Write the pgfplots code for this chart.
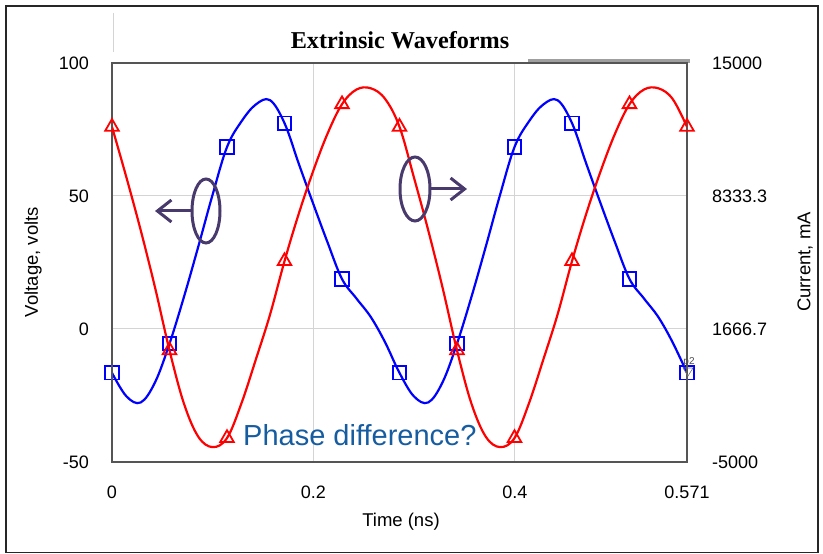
\documentclass[border=0pt]{standalone}
\usepackage{pgfplots}
\pgfplotsset{compat=1.18}
\usepackage{fontspec}
\setmainfont{Liberation Sans}
\newfontfamily\titlefont{Liberation Serif}
\usetikzlibrary{arrows.meta}
\definecolor{frameC}{RGB}{85,85,85}
\definecolor{gridC}{RGB}{212,212,212}
\definecolor{annC}{RGB}{72,58,108}
\definecolor{phaseC}{RGB}{22,92,160}

\pgfplotstableread{
t v
0.0000 -16.5
0.0143 -25.3
0.0286 -27.6
0.0428 -20
0.0571 -5.5
0.0714 12
0.0857 31
0.0999 50.5
0.1142 68.4
0.1285 78
0.1428 84.4
0.1570 86
0.1713 77.4
0.1856 62
0.1999 47
0.2141 32.5
0.2284 18.8
0.2427 11.5
0.2570 4.5
0.2712 -5
0.2855 -16.5
0.2998 -25.3
0.3141 -27.6
0.3283 -20
0.3426 -5.5
0.3569 12
0.3712 31
0.3854 50.5
0.3997 68.4
0.4140 78
0.4283 84.4
0.4425 86
0.4568 77.4
0.4711 62
0.4854 47
0.4996 32.5
0.5139 18.8
0.5282 11.5
0.5425 4.5
0.5567 -5
0.5710 -16.5
}\voltage

\pgfplotstableread{
t v
0.000 -16.5
0.0571 -5.5
0.1142 68.4
0.1713 77.4
0.2284 18.8
0.2855 -16.5
0.3426 -5.5
0.3997 68.4
0.4568 77.4
0.5139 18.8
0.571 -16.5
}\voltagemarks

\pgfplotstableread{
t i
0.0000 11800
0.0143 9267
0.0286 6600
0.0428 3733
0.0571 600
0.0714 -2067
0.0857 -3733
0.0999 -4253
0.1142 -3800
0.1285 -2067
0.1428 133
0.1570 2400
0.1713 5067
0.1856 7467
0.1999 9600
0.2141 11467
0.2284 12933
0.2427 13667
0.2570 13733
0.2712 13200
0.2855 11800
0.2998 9267
0.3141 6600
0.3283 3733
0.3426 600
0.3569 -2067
0.3712 -3733
0.3854 -4253
0.3997 -3800
0.4140 -2067
0.4283 133
0.4425 2400
0.4568 5067
0.4711 7467
0.4854 9600
0.4996 11467
0.5139 12933
0.5282 13667
0.5425 13733
0.5567 13200
0.5710 11800
}\current

\pgfplotstableread{
t i
0.000 11800
0.0571 600
0.1142 -3800
0.1713 5067
0.2284 12933
0.2855 11800
0.3426 600
0.3997 -3800
0.4568 5067
0.5139 12933
0.571 11800
}\currentmarks

\begin{document}
\begin{tikzpicture}[x=1pt,y=1pt]
\useasboundingbox (0,0) rectangle (823,554);
\draw[line width=1.3pt, black!85] (6,1.5) rectangle (818,548);
% small artifacts
\draw[gridC, line width=1pt] (113,541) -- (113,502);
\fill[gray!75] (528,491) rectangle (690,494.5);

\begin{axis}[
  at={(112pt,92pt)}, anchor=south west,
  scale only axis, width=575pt, height=399pt,
  xmin=0, xmax=0.571, ymin=-50, ymax=100,
  xtick={0,0.2,0.4,0.571}, xticklabels={0,0.2,0.4,0.571},
  ytick={-50,0,50,100}, yticklabels={-50,0,50,100},
  scaled ticks=false,
  grid=major, grid style={gridC, line width=1pt},
  major tick length=0pt,
  axis line style={frameC, line width=1.3pt},
  tick label style={font=\fontsize{18}{18}\selectfont, inner sep=0pt},
  /pgf/number format/assume math mode=true,
  yticklabel style={xshift=-23pt},
  xticklabel style={yshift=-24pt},
]
\addplot[blue, line width=2.2pt, smooth, tension=0.6, no marks] table[x=t,y=v] {\voltage};
\addplot[blue, only marks, mark=square, mark size=6.7pt, mark options={line width=1.8pt, fill=none}] table[x=t,y=v] {\voltagemarks};
\end{axis}

\begin{axis}[
  at={(112pt,92pt)}, anchor=south west,
  scale only axis, width=575pt, height=399pt,
  xmin=0, xmax=0.571, ymin=-5000, ymax=15000,
  xtick=\empty,
  ytick={-5000,1666.7,8333.3,15000}, yticklabels={-5000,1666.7,8333.3,15000},
  scaled ticks=false,
  yticklabel pos=right,
  major tick length=0pt,
  axis line style={frameC, line width=1.3pt},
  tick label style={font=\fontsize{18}{18}\selectfont, inner sep=0pt},
  /pgf/number format/assume math mode=true,
  yticklabel style={xshift=25pt},
]
\addplot[red, line width=2.2pt, smooth, tension=0.6, no marks] table[x=t,y=i] {\current};
\addplot[red, only marks, mark=triangle, mark size=7.8pt, mark options={line width=1.8pt, fill=none}] table[x=t,y=i] {\currentmarks};
\end{axis}

% annotations
\draw[annC, line width=3pt] (206,343) ellipse [x radius=14, y radius=32];
\draw[annC, line width=3pt, -{Straight Barb[length=14pt,width=22pt]}] (192,343) -- (155,343);
\draw[annC, line width=3pt] (415,365) ellipse [x radius=15, y radius=32];
\draw[annC, line width=3pt, -{Straight Barb[length=14pt,width=22pt]}] (430,365) -- (467,365);

\node[anchor=base west, inner sep=0pt, text=phaseC, font=\fontsize{29}{29}\selectfont] at (243,108) {Phase difference?};
\node[inner sep=0pt, text=black!70, font=\fontsize{10}{10}\selectfont] at (689,192) {p2};
\draw[black!55, line width=0.6pt] (683,186) -- (693,186) -- (688,178) -- cycle;

\node[anchor=base, inner sep=0pt, font=\titlefont\bfseries\fontsize{24.2}{24.2}\selectfont] at (400,505) {Extrinsic Waveforms};
\node[anchor=base, inner sep=0pt, font=\fontsize{18.5}{18.5}\selectfont] at (401,27) {Time (ns)};
\node[rotate=90, inner sep=0pt, font=\fontsize{18.5}{18.5}\selectfont] at (33,292) {Voltage, volts};
\node[rotate=90, inner sep=0pt, font=\fontsize{18.5}{18.5}\selectfont] at (805,292) {Current, mA};
\end{tikzpicture}
\end{document}
